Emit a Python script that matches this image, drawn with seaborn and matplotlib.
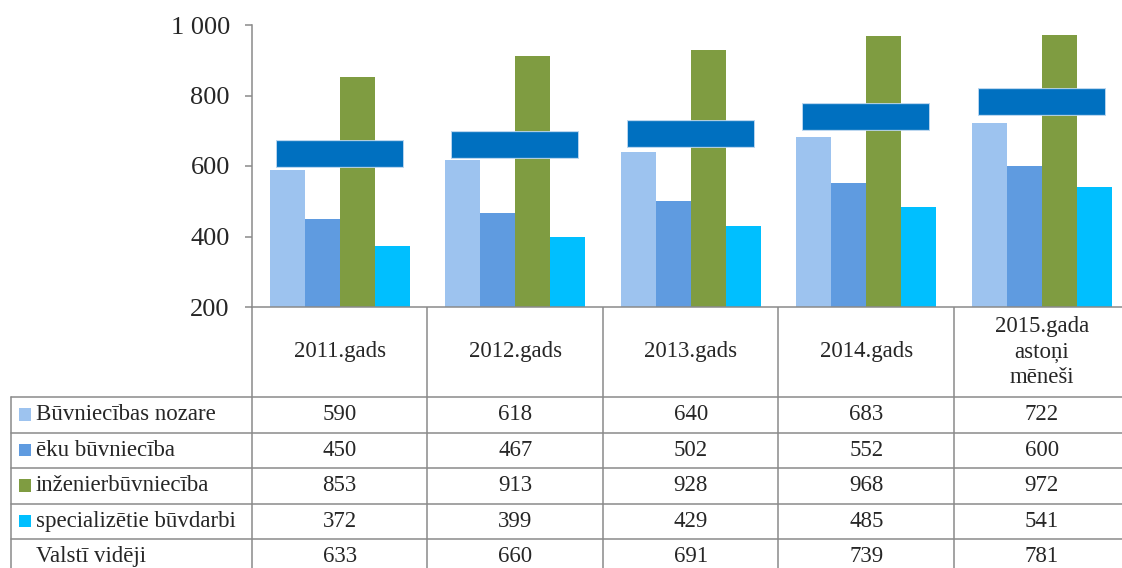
import matplotlib
matplotlib.use("Agg")
import matplotlib.pyplot as plt
import matplotlib.ticker as mticker
from matplotlib.patches import Rectangle
import pandas as pd
import seaborn as sns

# data
periods = ["2011.gads", "2012.gads", "2013.gads", "2014.gads", "2015.gada\nastoņi\nmēneši"]
series = ["Būvniecības nozare", "ēku būvniecība", "inženierbūvniecība", "specializētie būvdarbi"]
buvniecibas_nozare = [590, 618, 640, 683, 722]
eku_buvnieciba = [450, 467, 502, 552, 600]
inzenierbuvnieciba = [853, 913, 928, 968, 972]
specializetie = [372, 399, 429, 485, 541]
valsti_videji = [633, 660, 691, 739, 781]
avg_label = "Valstī vidēji"

colors = ["#9DC3EF", "#5F9BE0", "#7F9C41", "#00BFFF"]
avg_color = "#0070C0"
grid_color = "#8A8A8A"

sns.set_style("white")
plt.rcParams["font.family"] = ["Liberation Serif", "DejaVu Serif"]

W, H = 1122, 568
fig = plt.figure(figsize=(W / 100, H / 100), dpi=100)

col_w = 175.5
x0, y_axis = 252, 307
ax = fig.add_axes([x0 / W, 1 - y_axis / H, 5 * col_w / W, 282 / H])

all_values = [buvniecibas_nozare, eku_buvnieciba, inzenierbuvnieciba, specializetie]
df = pd.DataFrame({
    "period": periods * len(series),
    "series": [s for s in series for _ in periods],
    "value": [v for vals in all_values for v in vals],
})
sns.barplot(data=df, x="period", y="value", hue="series", palette=colors,
            saturation=1, width=0.8, legend=False, ax=ax, zorder=2, linewidth=0)

# average marker (wide dash with a soft light edge)
ax.plot(range(len(periods)), valsti_videji, ls="none", marker="_", ms=92.5, mew=20,
        color="#B5D3EE", zorder=3)
ax.plot(range(len(periods)), valsti_videji, ls="none", marker="_", ms=91, mew=18.5,
        color=avg_color, zorder=4)

ax.set_xlim(-0.5, len(periods) - 0.5)
ax.set_ylim(200, 1000)
ax.set_yticks(range(200, 1001, 200))
ax.yaxis.set_major_formatter(mticker.FuncFormatter(lambda v, p: f"{int(v):,}".replace(",", " ")))
ax.set_xticks([])
ax.set_xlabel("")
ax.set_ylabel("")
for s in ["top", "right"]:
    ax.spines[s].set_visible(False)
for s in ["left", "bottom"]:
    ax.spines[s].set_color(grid_color)
    ax.spines[s].set_linewidth(1.1)
ax.tick_params(axis="y", length=5, width=1.1, color=grid_color, labelsize=19, pad=11,
               left=True)

# data table below the chart
tab = fig.add_axes([0, 0, 1, 1], zorder=-1)
tab.set_xlim(0, W)
tab.set_ylim(H, 0)
tab.axis("off")

col_edges = [x0 + i * col_w for i in range(len(periods) + 1)]
row_h = 35.5
head_bottom = 397
row_edges = [head_bottom + j * row_h for j in range(5)]
lw = 1.1

for y in row_edges:
    tab.plot([11, W], [y, y], color=grid_color, lw=lw)
tab.plot([11, 11], [head_bottom, H], color=grid_color, lw=lw)
for x in col_edges:
    tab.plot([x, x], [y_axis, H], color=grid_color, lw=lw)

fs = 16.5
for i, p in enumerate(periods):
    cx = col_edges[i] + col_w / 2
    tab.text(cx, (y_axis + head_bottom) / 2, p, ha="center", va="center",
             fontsize=fs, linespacing=1.3)

row_names = series + [avg_label]
row_values = all_values + [valsti_videji]
for j, (name, vals) in enumerate(zip(row_names, row_values)):
    cy = head_bottom + (j + 0.5) * row_h
    if j < len(series):
        tab.add_patch(Rectangle((19, cy - 6.5), 12.5, 12.5, color=colors[j], lw=0))
    tab.text(36, cy, name, ha="left", va="center", fontsize=fs)
    for i, v in enumerate(vals):
        tab.text(col_edges[i] + col_w / 2, cy, str(v), ha="center", va="center", fontsize=fs)

fig.savefig("out.png", dpi=100)
